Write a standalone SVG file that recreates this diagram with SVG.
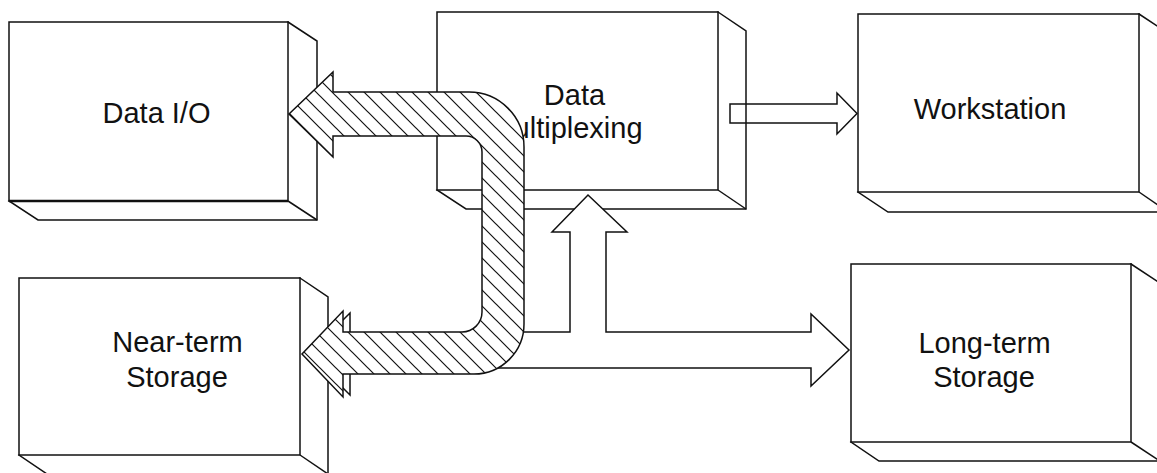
<svg xmlns="http://www.w3.org/2000/svg" width="1157" height="473" viewBox="0 0 1157 473">
<style>
.box rect,.box path{fill:#fff;stroke:#111;stroke-width:1.5;stroke-linejoin:miter}
.box text,.lbl{font-family:"Liberation Sans",Arial,sans-serif;font-size:29px;fill:#111;text-anchor:middle}
.arrow{stroke:#111;stroke-width:1.5;stroke-linejoin:miter}
</style>
<defs>
<pattern id="hatch" patternUnits="userSpaceOnUse" width="16" height="16">
<rect width="16" height="16" fill="#fff"/>
<path d="M-4,-4 L20,20 M-4,12 L4,20 M12,-4 L20,4" stroke="#111" stroke-width="1.2"/>
</pattern>
</defs>
<rect width="1157" height="473" fill="#fff"/>

<g id="data-io" class="box">
<path d="M288,22 L317,41 L317,220 L38,220 L9,201 Z"/>
<path d="M288,201 L317,220"/>
<rect x="9" y="22" width="279" height="179"/>
<path d="M9,201 L288,201" style="stroke-width:2.5;fill:none"/>
<text x="156.5" y="123">Data I/O</text>
</g>

<g id="data-multiplexing" class="box">
<path d="M718,12 L746,31 L746,209 L466,209 L437,190 Z"/>
<path d="M718,190 L746,209"/>
<rect x="437" y="12" width="281" height="178"/>
<text x="574.5" y="105">Data</text>
<text x="566" y="138">Multiplexing</text>
</g>

<g id="workstation" class="box">
<path d="M1139,14 L1168,33 L1168,212 L888,212 L858,192 Z"/>
<path d="M1139,192 L1168,212"/>
<rect x="858" y="14" width="281" height="178"/>
<text x="990" y="119">Workstation</text>
</g>

<g id="long-term-storage" class="box">
<path d="M1131,264 L1160,283 L1160,461 L879,461 L851,442 Z"/>
<path d="M1131,442 L1160,461"/>
<rect x="851" y="264" width="280" height="178"/>
<text x="984.5" y="353">Long-term</text>
<text x="984" y="387">Storage</text>
</g>

<g id="near-term-storage" class="box">
<path d="M300,278 L328,297 L328,474 L47,474 L19,455 Z"/>
<path d="M300,455 L328,474"/>
<rect x="19" y="278" width="281" height="177"/>
<text x="177.5" y="352">Near-term</text>
<text x="177" y="387">Storage</text>
</g>

<g id="connectors">
<path class="arrow" fill="none" d="M730,104 L837,104 L837,93 L857,113.5 L837,134 L837,123 L730,123 Z"/>
<path class="arrow" fill="#fff" d="M309,354 L350,313 L350,334 L500,334 L500,332 L570,332 L570,232 L552,232 L588,195 L627,232 L606,232 L606,332 L811,332 L811,314 L849,350 L811,386 L811,368 L350,368 L350,395 Z"/>
<path class="arrow" fill="url(#hatch)" d="M289,114 L333,72 L333,92 L469,92 A55,55 0 0 1 524,147 L524,324 A50,50 0 0 1 474,374 L343,374 L343,397 L302,354 L343,311 L343,332 L462,332 A20,20 0 0 0 482,312 L482,152 A16,16 0 0 0 466,136 L333,136 L333,157 Z"/>
</g>
</svg>
